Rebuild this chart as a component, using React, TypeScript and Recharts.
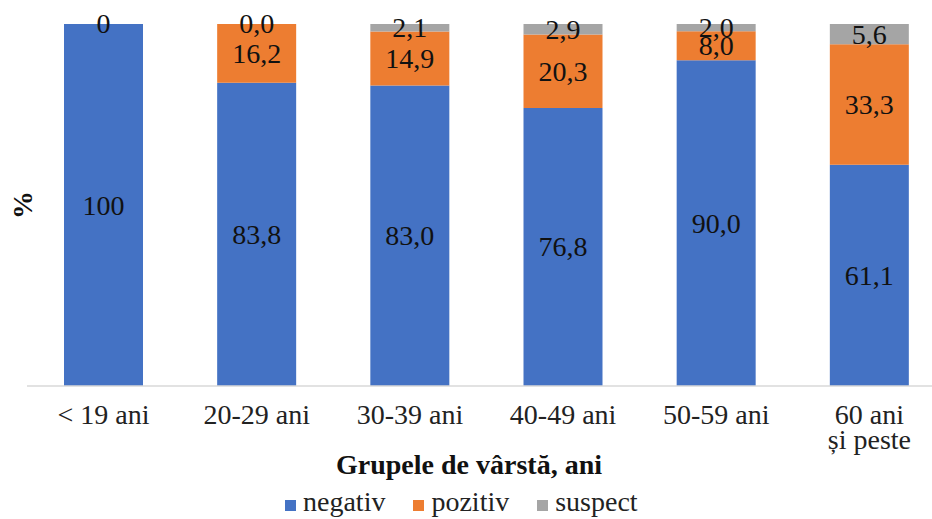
import { BarChart, Bar, XAxis, YAxis, Legend, LabelList } from 'recharts'

const categories = ['< 19 ani', '20-29 ani', '30-39 ani', '40-49 ani', '50-59 ani', '60 ani\nși peste']
const negativ = [100, 83.8, 83.0, 76.8, 90.0, 61.1]
const pozitiv = [0, 16.2, 14.9, 20.3, 8.0, 33.3]
const suspect: (number | null)[] = [null, 0.0, 2.1, 2.9, 2.0, 5.6]

const seriesNames = ['negativ', 'pozitiv', 'suspect']
const seriesValues = [negativ, pozitiv, suspect]
const colors = ['#4472C4', '#ED7D31', '#A5A5A5']

const FONT = "'Liberation Serif', 'Times New Roman', serif"

// first group is printed without decimals in the source
const fmt = (v: number | null, i: number) =>
  v === null ? null : i === 0 ? String(Math.round(v)) : v.toFixed(1).replace('.', ',')

const data = categories.map((name, i) => ({
  name,
  negativ: negativ[i],
  pozitiv: pozitiv[i],
  suspect: suspect[i],
  negativLabel: fmt(negativ[i], i),
  pozitivLabel: fmt(pozitiv[i], i),
  suspectLabel: fmt(suspect[i], i),
}))

const renderLabel = (props: any) => {
  const { x, y, width, height, value } = props
  if (value === null || value === undefined) return null
  return (
    <text
      x={x + width / 2}
      y={y + height / 2}
      textAnchor="middle"
      dominantBaseline="central"
      fontFamily={FONT}
      fontSize={28}
      fill="#111"
    >
      {value}
    </text>
  )
}

const CatTick = (props: any) => {
  const { x, y, payload } = props
  const lines = String(payload.value).split('\n')
  return (
    <text x={x} y={y + 38} textAnchor="middle" fontFamily={FONT} fontSize={28} fill="#222">
      {lines.map((l, i) => (
        <tspan key={i} x={x} dy={i === 0 ? 0 : 25}>{l}</tspan>
      ))}
    </text>
  )
}

const LegendBox = () => (
  <div style={{ display: 'flex', alignItems: 'baseline', fontFamily: FONT, fontSize: 28, color: '#222', whiteSpace: 'nowrap' }}>
    {seriesNames.map((n, i) => (
      <span key={n} style={{ display: 'inline-flex', alignItems: 'baseline', marginRight: i < 2 ? 28 : 0 }}>
        <span style={{ display: 'inline-block', width: 11, height: 11, background: colors[i], marginRight: 7 }} />
        {n}
      </span>
    ))}
  </div>
)

// keeps zero-valued segments (and their labels) in the stack
const tinyForZero = (vals: (number | null)[]) => (_: any, idx: number) => (vals[idx] === 0 ? 0.01 : 0)

export default function App() {
  return (
    <div style={{ position: 'absolute', left: 0, top: 0, width: 932, height: 519, overflow: 'hidden', background: '#fff' }}>
      <BarChart width={946} height={519} data={data} margin={{ top: 24, right: 0, left: 0, bottom: 0 }} barSize={79}>
        <XAxis
          dataKey="name"
          tick={<CatTick />}
          tickLine={false}
          tickSize={0}
          tickMargin={0}
          height={133}
          interval={0}
          axisLine={{ stroke: '#D9D9D9', strokeWidth: 1.5 }}
          label={{
            content: () => (
              <text x={469} y={474} textAnchor="middle" fontFamily={FONT} fontSize={28} fontWeight="bold" fill="#111">
                Grupele de vârstă, ani
              </text>
            ),
          }}
        />
        <YAxis
          width={27}
          domain={[0, 100]}
          tick={false}
          tickLine={false}
          axisLine={false}
          label={{
            content: () => (
              <text
                x={22}
                y={205}
                textAnchor="middle"
                dominantBaseline="central"
                transform="rotate(-90 22 205)"
                fontFamily={FONT}
                fontSize={28}
                fontWeight="bold"
                fill="#111"
              >
                %
              </text>
            ),
          }}
        />
        <Legend
          verticalAlign="middle"
          align="center"
          layout="horizontal"
          content={<LegendBox />}
          wrapperStyle={{ position: 'absolute', top: 486, left: 285, width: 'auto' }}
        />
        {seriesNames.map((n, i) => (
          <Bar key={n} dataKey={n} stackId="a" fill={colors[i]} minPointSize={tinyForZero(seriesValues[i])} isAnimationActive={false}>
            <LabelList dataKey={`${n}Label`} content={renderLabel} />
          </Bar>
        ))}
      </BarChart>
    </div>
  )
}
